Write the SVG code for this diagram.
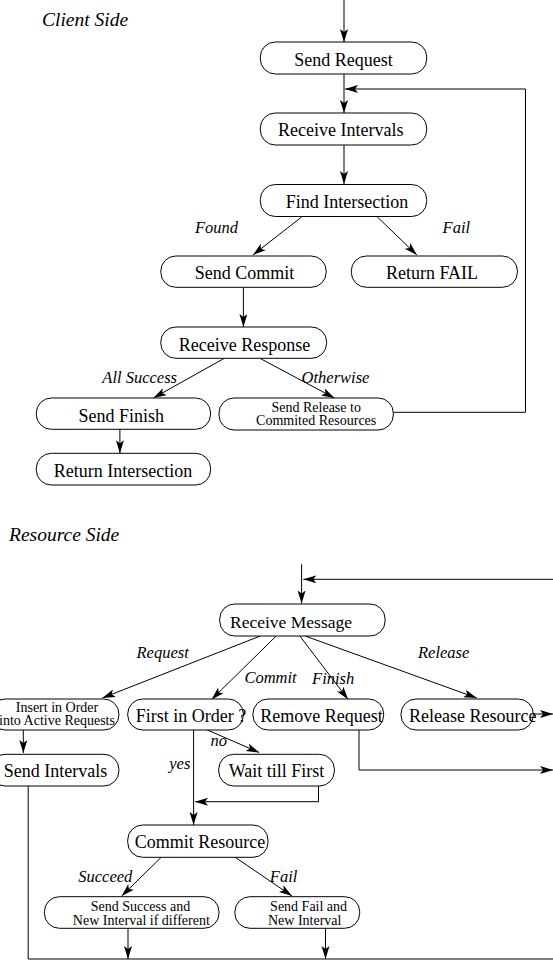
<svg xmlns="http://www.w3.org/2000/svg" width="553" height="961" viewBox="0 0 553 961">
<style>
.box{fill:#fff;stroke:#000;stroke-width:1}
.t{font-family:"Liberation Serif","Times New Roman",serif;font-size:18px;fill:#000}
.s{font-family:"Liberation Serif","Times New Roman",serif;font-size:14px;fill:#000}
.l{font-family:"Liberation Serif","Times New Roman",serif;font-size:16.5px;font-style:italic;fill:#000}
.h{font-family:"Liberation Serif","Times New Roman",serif;font-size:19.5px;font-style:italic;fill:#000}
.c{text-anchor:middle}
.e{fill:none;stroke:#000;stroke-width:1}
</style>
<defs>
<marker id="a" markerUnits="userSpaceOnUse" markerWidth="14" markerHeight="10" refX="13" refY="4" orient="auto">
<path d="M0,0 L13,4 L0,8 L3,4 Z" fill="#000"/>
</marker>
</defs>
<rect width="553" height="961" fill="#fff"/>
<text class="h" x="42" y="26">Client Side</text>
<text class="h" x="9" y="541">Resource Side</text>
<g id="connectors">
<line class="e" x1="344" y1="0" x2="344" y2="42" marker-end="url(#a)"/>
<line class="e" x1="344" y1="74" x2="344" y2="113" marker-end="url(#a)"/>
<polyline class="e" points="393.3,412.3 525.5,412.3 525.5,89 345,89" marker-end="url(#a)"/>
<line class="e" x1="344" y1="145" x2="344" y2="184" marker-end="url(#a)"/>
<line class="e" x1="301.6" y1="217" x2="252.9" y2="255" marker-end="url(#a)"/>
<line class="e" x1="377.4" y1="217" x2="416.9" y2="255" marker-end="url(#a)"/>
<line class="e" x1="243.4" y1="287.3" x2="243.4" y2="327" marker-end="url(#a)"/>
<line class="e" x1="224.3" y1="358.3" x2="153.4" y2="398" marker-end="url(#a)"/>
<line class="e" x1="259.9" y1="358.3" x2="334.4" y2="398" marker-end="url(#a)"/>
<line class="e" x1="119.9" y1="429.3" x2="119.9" y2="453.3" marker-end="url(#a)"/>
<text class="l" x="195" y="233">Found</text>
<text class="l" x="442.6" y="233">Fail</text>
<text class="l" x="102.3" y="383.3">All Success</text>
<text class="l" x="301.6" y="383.3">Otherwise</text>

<line class="e" x1="301.6" y1="564.3" x2="301.6" y2="603.5" marker-end="url(#a)"/>
<line class="e" x1="553" y1="579.3" x2="303.3" y2="579.3" marker-end="url(#a)"/>
<line class="e" x1="260.3" y1="636" x2="102.3" y2="698" marker-end="url(#a)"/>
<line class="e" x1="276.2" y1="636" x2="211.6" y2="699.5" marker-end="url(#a)"/>
<line class="e" x1="299.8" y1="636" x2="348.1" y2="699.5" marker-end="url(#a)"/>
<line class="e" x1="305.1" y1="636" x2="476.8" y2="698" marker-end="url(#a)"/>
<line class="e" x1="533.3" y1="714" x2="553" y2="714" marker-end="url(#a)"/>
<line class="e" x1="23.3" y1="730" x2="23.3" y2="753" marker-end="url(#a)"/>
<polyline class="e" points="28.2,786 28.2,959 553,959"/>
<line class="e" x1="203.5" y1="728.3" x2="259.2" y2="752.5" marker-end="url(#a)"/>
<line class="e" x1="193.6" y1="730" x2="193.6" y2="825" marker-end="url(#a)"/>
<polyline class="e" points="318.5,786 318.5,801.7 195,801.7" marker-end="url(#a)"/>
<polyline class="e" points="359,730 359,770 553,770" marker-end="url(#a)"/>
<line class="e" x1="161.2" y1="857.3" x2="121.7" y2="896" marker-end="url(#a)"/>
<line class="e" x1="235.2" y1="857.3" x2="292" y2="896" marker-end="url(#a)"/>
<line class="e" x1="128" y1="928.3" x2="128" y2="959" marker-end="url(#a)"/>
<line class="e" x1="325.5" y1="928.3" x2="325.5" y2="959" marker-end="url(#a)"/>
<text class="l" x="136.5" y="658.3">Request</text>
<text class="l" x="418" y="658.3">Release</text>
<text class="l" x="244.4" y="683.3">Commit</text>
<text class="l" x="312.1" y="684.3">Finish</text>
<text class="l" x="210.6" y="746">no</text>
<text class="l" x="169.3" y="769.3">yes</text>
<text class="l" x="78.3" y="881.7">Succeed</text>
<text class="l" x="269.8" y="881.7">Fail</text>
</g>

<g id="send-request"><rect class="box" x="260.3" y="42" width="166.4" height="32" rx="15" ry="15"/><text class="t c" x="343.5" y="66">Send Request</text></g>
<g id="receive-intervals"><rect class="box" x="260.3" y="113" width="166.4" height="32" rx="15" ry="15"/><text class="t c" x="340.7" y="136">Receive Intervals</text></g>
<g id="find-intersection"><rect class="box" x="260.3" y="184.5" width="166.4" height="32" rx="15" ry="15"/><text class="t c" x="347" y="208">Find Intersection</text></g>
<g id="send-commit"><rect class="box" x="160.8" y="256" width="165.4" height="31.3" rx="15" ry="15"/><text class="t c" x="244.6" y="279.3">Send Commit</text></g>
<g id="return-fail"><rect class="box" x="351.3" y="256" width="166.1" height="31.3" rx="15" ry="15"/><text class="t c" x="432" y="279.3">Return FAIL</text></g>
<g id="receive-response"><rect class="box" x="160.8" y="327" width="165.8" height="31.3" rx="15" ry="15"/><text class="t c" x="244.6" y="350.7">Receive Response</text></g>
<g id="send-finish"><rect class="box" x="36.3" y="398" width="174.3" height="31.3" rx="15" ry="15"/><text class="t c" x="121.2" y="421.7">Send Finish</text></g>
<g id="send-release"><rect class="box" x="219" y="398" width="174.3" height="32" rx="15" ry="15"/><text class="s c" x="316.2" y="412">Send Release to</text><text class="s c" x="316.2" y="425">Commited Resources</text></g>
<g id="return-intersection"><rect class="box" x="36.3" y="453.3" width="174.3" height="31.7" rx="15" ry="15"/><text class="t c" x="123" y="476.7">Return Intersection</text></g>

<g id="receive-message"><rect class="box" x="219.7" y="604" width="165.4" height="32" rx="15" ry="15"/><text class="t c" x="291" y="627.7" style="font-size:17.5px">Receive Message</text></g>
<g id="insert-in-order"><rect class="box" x="-10" y="699" width="128.9" height="31" rx="15" ry="15"/><text class="s c" x="57" y="711.5">Insert in Order</text><text class="s c" x="57" y="724.5">into Active Requests</text></g>
<g id="first-in-order"><rect class="box" x="127.7" y="699" width="115.7" height="31" rx="15" ry="15"/><text class="t" x="135.8" y="721.7">First in Order ?</text></g>
<g id="remove-request"><rect class="box" x="252.9" y="699" width="130.8" height="31" rx="15" ry="15"/><text class="t" x="260.3" y="721.7">Remove Request</text></g>
<g id="release-resource"><rect class="box" x="401" y="699" width="132.3" height="31" rx="15" ry="15"/><text class="t" x="409.1" y="721.7">Release Resource</text></g>
<g id="send-intervals"><rect class="box" x="-10" y="754.3" width="128.9" height="31.7" rx="15" ry="15"/><text class="t c" x="55.5" y="777.3">Send Intervals</text></g>
<g id="wait-till-first"><rect class="box" x="218.7" y="754.3" width="115.7" height="31.7" rx="15" ry="15"/><text class="t c" x="276.5" y="777.3">Wait till First</text></g>
<g id="commit-resource"><rect class="box" x="127.7" y="825" width="140.3" height="32.3" rx="15" ry="15"/><text class="t c" x="200" y="848.3">Commit Resource</text></g>
<g id="send-success"><rect class="box" x="44.4" y="896.7" width="174.6" height="31.6" rx="15" ry="15"/><text class="s c" x="140.4" y="911">Send Success and</text><text class="s c" x="141.3" y="924.5">New Interval if different</text></g>
<g id="send-fail"><rect class="box" x="234.9" y="896.7" width="124.8" height="31.6" rx="15" ry="15"/><text class="s c" x="308.6" y="911">Send Fail and</text><text class="s c" x="304.7" y="924.5">New Interval</text></g>
</svg>
